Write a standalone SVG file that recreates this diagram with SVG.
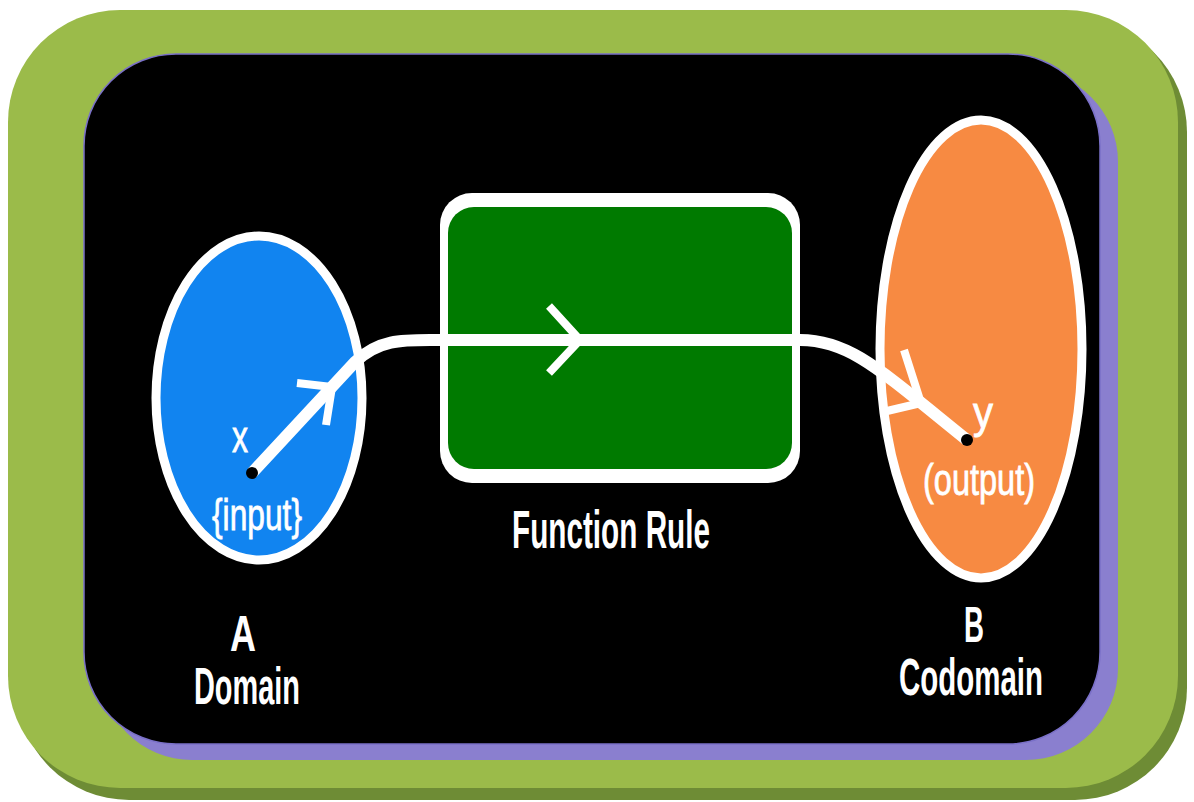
<svg xmlns="http://www.w3.org/2000/svg" width="1194" height="802" viewBox="0 0 1194 802">
  <style>
    .lbl { fill: #ffffff; font-family: "Liberation Sans", Arial, sans-serif; }
    .thin { stroke: #ffffff; stroke-width: 0.8; }
    .wire { fill: none; stroke: #ffffff; stroke-width: 12; stroke-linecap: butt; stroke-linejoin: round; }
    .chev { fill: none; stroke: #ffffff; stroke-width: 8; stroke-linecap: butt; stroke-linejoin: miter; }
    .ring { stroke: #ffffff; stroke-width: 9; }
  </style>

  <!-- white page -->
  <rect x="0" y="0" width="1194" height="802" fill="#ffffff"/>

  <!-- outer green frame with darker drop edge -->
  <g id="frame">
    <rect x="17" y="20" width="1170" height="780" rx="112" fill="#6e8c35"/>
    <rect x="8" y="10" width="1170" height="778" rx="112" fill="#9bbb4a"/>
    <!-- purple shadow of the black panel -->
    <rect x="100" y="70" width="1018" height="690" rx="92" fill="#8a7fcf"/>
    <rect x="84" y="54" width="1016" height="690" rx="92" fill="#000000" stroke="#7a70c8" stroke-width="1.5"/>
  </g>

  <!-- Domain set -->
  <g id="domain">
    <ellipse cx="259" cy="398" rx="103" ry="162" fill="#1184f0" class="ring"/>
    <text class="lbl thin" x="240" y="452" font-size="44" text-anchor="middle" textLength="16" lengthAdjust="spacingAndGlyphs">x</text>
    <text class="lbl thin" x="257" y="530" font-size="44" text-anchor="middle" textLength="90" lengthAdjust="spacingAndGlyphs">{input}</text>
    <text class="lbl" x="243" y="651" font-size="50" font-weight="bold" text-anchor="middle" textLength="26" lengthAdjust="spacingAndGlyphs">A</text>
    <text class="lbl" x="247" y="704" font-size="52" font-weight="bold" text-anchor="middle" textLength="106" lengthAdjust="spacingAndGlyphs">Domain</text>
  </g>

  <!-- Function Rule box -->
  <g id="rule">
    <rect x="440" y="193" width="360" height="290" rx="32" fill="#ffffff"/>
    <rect x="448" y="207" width="344" height="262" rx="26" fill="#007a00"/>
    <text class="lbl" x="611" y="548" font-size="54" font-weight="bold" text-anchor="middle" textLength="198" lengthAdjust="spacingAndGlyphs">Function Rule</text>
  </g>

  <!-- Codomain set -->
  <g id="codomain">
    <ellipse cx="981" cy="349" rx="101" ry="229" fill="#f78a42" class="ring"/>
    <text class="lbl thin" x="983" y="428" font-size="44" text-anchor="middle" textLength="20" lengthAdjust="spacingAndGlyphs">y</text>
    <text class="lbl thin" x="979" y="495" font-size="44" text-anchor="middle" textLength="112" lengthAdjust="spacingAndGlyphs">(output)</text>
    <text class="lbl" x="974" y="642" font-size="50" font-weight="bold" text-anchor="middle" textLength="20" lengthAdjust="spacingAndGlyphs">B</text>
    <text class="lbl" x="971" y="695" font-size="52" font-weight="bold" text-anchor="middle" textLength="144" lengthAdjust="spacingAndGlyphs">Codomain</text>
  </g>

  <!-- mapping x -> rule -> y -->
  <g id="connectors">
    <path class="wire" d="M252,473 L355,362 C380,338 405,340 440,340 L800,340 C850,340 880,370 967,440"/>
    <polyline class="chev" points="297,383 332,387 326,425"/>
    <polyline class="chev" points="549,306 580,340 549,373"/>
    <polyline class="chev" points="904,350 921,403 887,411"/>
    <circle cx="252" cy="473" r="6" fill="#000000"/>
    <circle cx="967" cy="440" r="6" fill="#000000"/>
  </g>
</svg>
